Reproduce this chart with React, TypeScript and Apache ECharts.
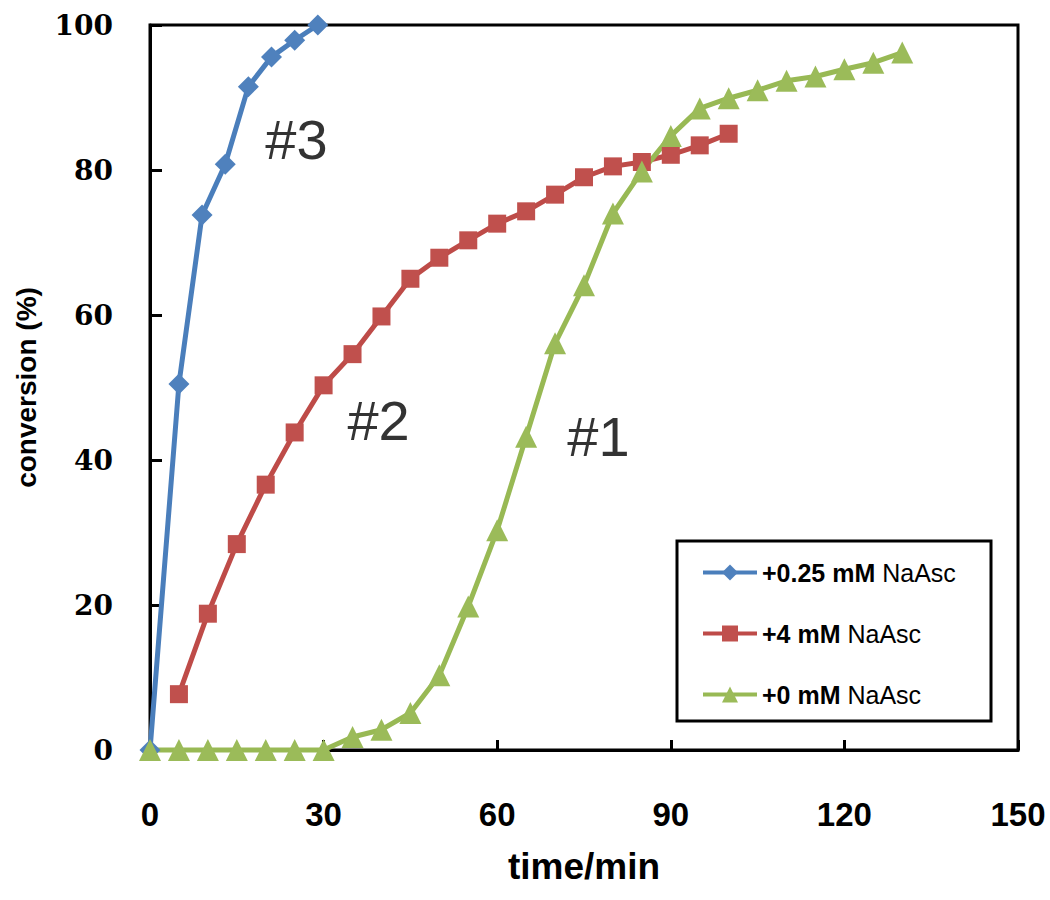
import React, { useEffect, useRef } from "react";
import * as echarts from "echarts";

const seriesNames = ["+0.25 mM NaAsc", "+4 mM NaAsc", "+0 mM NaAsc"];

const blueTime = [0, 5, 9, 13, 17, 21, 25, 29];
const blueConv = [0, 50.5, 73.8, 80.8, 91.5, 95.6, 97.9, 100];

const redTime = [5, 10, 15, 20, 25, 30, 35, 40, 45, 50, 55, 60, 65, 70, 75, 80, 85, 90, 95, 100];
const redConv = [7.7, 18.8, 28.4, 36.6, 43.8, 50.3, 54.6, 59.8, 65.0, 67.9, 70.3, 72.6, 74.3, 76.6, 79.0, 80.5, 81.1, 82.1, 83.4, 85.0];

const greenTime = [0, 5, 10, 15, 20, 25, 30, 35, 40, 45, 50, 55, 60, 65, 70, 75, 80, 85, 90, 95, 100, 105, 110, 115, 120, 125, 130];
const greenConv = [0, 0, 0, 0, 0, 0, 0, 1.8, 2.8, 5.1, 10.3, 19.8, 30.3, 43.2, 56.1, 64.1, 74.0, 79.8, 84.7, 88.5, 89.9, 91.0, 92.3, 92.9, 93.9, 94.8, 96.2];

const curveLabels = ["#3", "#2", "#1"];
const curveLabelTime = [25.3, 39.5, 77.5];
const curveLabelConv = [84.2, 45.5, 43.3];

const xTicks = { min: 0, max: 150, interval: 30 };
const yTicks = { min: 0, max: 100, interval: 20 };

const zip = (xs: number[], ys: number[]) => xs.map((x, i) => [x, ys[i]]);

export default function App() {
  const ref = useRef<HTMLDivElement>(null);
  useEffect(() => {
    if (!ref.current) return;
    const chart = echarts.init(ref.current, null, { renderer: "svg" });
    const lineBase = (name: string, data: number[][], lineColor: string, markColor: string, symbol: string, size: number) => ({
      name,
      type: "line",
      data,
      symbol,
      symbolSize: size,
      clip: false,
      lineStyle: { color: lineColor, width: 5 },
      itemStyle: { color: markColor, borderWidth: 0 },
    });
    chart.setOption({
      animation: false,
      backgroundColor: "#fff",
      grid: {
        left: 150, right: 32, top: 25, bottom: 150,
        outerBoundsMode: "none", containLabel: false,
        show: true, borderColor: "#000", borderWidth: 3, backgroundColor: "transparent",
      },
      xAxis: {
        type: "value",
        ...xTicks,
        name: "time/min",
        nameLocation: "middle",
        nameGap: 98,
        nameTextStyle: { fontFamily: "Liberation Sans Narrow, Liberation Sans", fontWeight: "bold", fontSize: 37, color: "#000" },
        axisLine: { show: true, onZero: false, lineStyle: { color: "#000", width: 3 } },
        axisTick: { show: true, inside: true, length: 10, lineStyle: { color: "#000", width: 3 } },
        axisLabel: { margin: 48, fontFamily: "Liberation Sans Narrow, Liberation Sans", fontWeight: "bold", fontSize: 33, color: "#000" },
        splitLine: { show: false },
      },
      yAxis: {
        type: "value",
        ...yTicks,
        name: "conversion (%)",
        nameLocation: "middle",
        nameGap: 110,
        nameTextStyle: { fontFamily: "Liberation Sans", fontWeight: "bold", fontSize: 28, color: "#000" },
        axisLine: { show: true, onZero: false, lineStyle: { color: "#000", width: 3 } },
        axisTick: { show: true, inside: true, length: 12, lineStyle: { color: "#000", width: 3 } },
        axisLabel: { margin: 37, fontFamily: "DejaVu Serif", fontWeight: "bold", fontSize: 28, color: "#000" },
        splitLine: { show: false },
      },
      legend: {
        data: seriesNames,
        orient: "vertical",
        left: 696,
        top: 555,
        itemWidth: 54,
        itemHeight: 20,
        itemGap: 36,
        lineStyle: { width: 4 },
        formatter: (name: string) => {
          const i = name.lastIndexOf(" ");
          return `{b|${name.slice(0, i)}}{r| ${name.slice(i + 1)}}`;
        },
        textStyle: {
          rich: {
            b: { fontFamily: "Liberation Sans", fontWeight: "bold", fontSize: 25, color: "#000" },
            r: { fontFamily: "Liberation Sans", fontSize: 25, color: "#000" },
          },
        },
      },
      graphic: [
        {
          type: "rect",
          shape: { x: 677, y: 541, width: 314, height: 180 },
          style: { fill: "none", stroke: "#000", lineWidth: 3 },
        },
      ],
      series: [
        lineBase(seriesNames[0], zip(blueTime, blueConv), "#4A7EBB", "#4F81BD", "diamond", 21),
        lineBase(seriesNames[1], zip(redTime, redConv), "#BE4B48", "#C0504D", "rect", 18),
        lineBase(seriesNames[2], zip(greenTime, greenConv), "#98B954", "#9BBB59", "triangle", 22),
        {
          name: "curveLabels",
          type: "scatter",
          data: curveLabels.map((t, i) => [curveLabelTime[i], curveLabelConv[i], t]),
          symbolSize: 1,
          itemStyle: { color: "transparent" },
          label: {
            show: true,
            position: "inside",
            formatter: (p: any) => p.value[2],
            fontFamily: "Liberation Sans",
            fontSize: 56,
            color: "#000",
          },
          silent: true,
        },
      ],
    });
    return () => chart.dispose();
  }, []);
  return <div ref={ref} style={{ position: "absolute", left: 0, top: 0, width: 1050, height: 900 }} />;
}
